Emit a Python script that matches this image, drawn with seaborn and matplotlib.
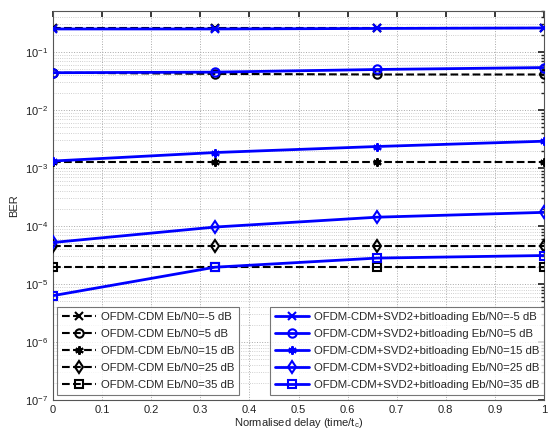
import numpy as np
import pandas as pd
import matplotlib
matplotlib.use("Agg")
import matplotlib.pyplot as plt
from matplotlib.ticker import LogLocator, NullFormatter
from matplotlib.lines import Line2D
import seaborn as sns

# ---- data ----
delay = [0.0, 0.33, 0.66, 1.0]
snr_labels = ["-5", "5", "15", "25", "35"]

cdm_m5 = [0.255, 0.255, 0.255, 0.255]
cdm_5 = [0.044, 0.042, 0.041, 0.041]
cdm_15 = [1.27e-3, 1.27e-3, 1.27e-3, 1.27e-3]
cdm_25 = [4.5e-5, 4.5e-5, 4.5e-5, 4.5e-5]
cdm_35 = [1.95e-5, 1.95e-5, 1.95e-5, 1.95e-5]

svd_m5 = [0.25, 0.25, 0.255, 0.26]
svd_5 = [0.044, 0.045, 0.050, 0.054]
svd_15 = [1.32e-3, 1.85e-3, 2.35e-3, 2.9e-3]
svd_25 = [5.2e-5, 9.6e-5, 1.42e-4, 1.72e-4]
svd_35 = [6.3e-6, 1.95e-5, 2.8e-5, 3.1e-5]

xticks = [0, 0.1, 0.2, 0.3, 0.4, 0.5, 0.6, 0.7, 0.8, 0.9, 1]
xticklabels = ["0", "0.1", "0.2", "0.3", "0.4", "0.5", "0.6", "0.7", "0.8", "0.9", "1"]

cdm_series = [cdm_m5, cdm_5, cdm_15, cdm_25, cdm_35]
svd_series = [svd_m5, svd_5, svd_15, svd_25, svd_35]

rows = []
for lab, vals in zip(snr_labels, cdm_series):
    for x, v in zip(delay, vals):
        rows.append(dict(delay=x, ber=v, system="OFDM-CDM", snr=lab))
for lab, vals in zip(snr_labels, svd_series):
    for x, v in zip(delay, vals):
        rows.append(dict(delay=x, ber=v, system="OFDM-CDM+SVD2+bitloading", snr=lab))
df = pd.DataFrame(rows)

sns.set_theme(style="white")
plt.rcParams["font.family"] = ["Liberation Sans", "DejaVu Sans"]
plt.rcParams["mathtext.fontset"] = "custom"
plt.rcParams["mathtext.rm"] = "Liberation Sans"
plt.rcParams["mathtext.it"] = "Liberation Sans"

fig = plt.figure(figsize=(5.58, 4.36), dpi=100)
ax = fig.add_axes([53 / 558, 1 - 400 / 436, (544 - 53) / 558, (400 - 11) / 436])

asterisk = (6, 2, 0)
markers = ["x", "o", asterisk, "d", "s"]

cdm_handles = []
svd_handles = []
for lab, mk in zip(snr_labels, markers):
    sub = df[(df.system == "OFDM-CDM") & (df.snr == lab)]
    sns.lineplot(data=sub, x="delay", y="ber", ax=ax, color="black", linestyle="--",
                 linewidth=1.5, marker=mk, markersize=6, markerfacecolor="none",
                 markeredgecolor="black", markeredgewidth=1.5, zorder=3)
    cdm_handles.append(Line2D([], [], color="black", linestyle="--", linewidth=1.5,
                              marker=mk, markersize=6, markerfacecolor="none",
                              markeredgecolor="black", markeredgewidth=1.5))
for lab, mk in zip(snr_labels, markers):
    sub = df[(df.system == "OFDM-CDM+SVD2+bitloading") & (df.snr == lab)]
    sns.lineplot(data=sub, x="delay", y="ber", ax=ax, color="blue", linestyle="-",
                 linewidth=2, marker=mk, markersize=6, markerfacecolor="none",
                 markeredgecolor="blue", markeredgewidth=1.5, zorder=4)
    svd_handles.append(Line2D([], [], color="blue", linestyle="-", linewidth=2,
                              marker=mk, markersize=6, markerfacecolor="none",
                              markeredgecolor="blue", markeredgewidth=1.5))

ax.set_yscale("log")
ax.set_ylim(1e-7, 0.51)
ax.set_xlim(0, 1)
ax.set_xticks(xticks)
ax.set_xticklabels(xticklabels)
ax.yaxis.set_major_locator(LogLocator(base=10, numticks=20))
ax.yaxis.set_minor_locator(LogLocator(base=10, subs=np.arange(2, 10), numticks=100))
ax.yaxis.set_minor_formatter(NullFormatter())

ax.grid(True, which="major", axis="both", linestyle=":", color="#a8a8a8", linewidth=0.7)
ax.grid(True, which="minor", axis="y", linestyle=":", color="#c0c0c0", linewidth=0.6)
ax.tick_params(which="both", direction="in", top=True, right=True, labelsize=8, colors="#222222")
ax.tick_params(which="major", length=4)
ax.tick_params(which="minor", length=2)
for s in ax.spines.values():
    s.set_color("#555555")
    s.set_linewidth(0.8)

ax.set_xlabel("Normalised delay (time/t$_c$)", fontsize=8, labelpad=1)
ax.set_ylabel("BER", fontsize=8, labelpad=4)

cdm_labels = [f"OFDM-CDM Eb/N0={l} dB" for l in snr_labels]
svd_labels = [f"OFDM-CDM+SVD2+bitloading Eb/N0={l} dB" for l in snr_labels]

common = dict(fontsize=8.2, frameon=True, fancybox=False, edgecolor="#555555",
              handlelength=3.0, labelspacing=0.62, borderpad=0.45, handletextpad=0.4,
              borderaxespad=0)
leg1 = ax.legend(cdm_handles, cdm_labels, loc="lower left", bbox_to_anchor=(0.008, 0.012),
                 **common)
leg1.get_frame().set_linewidth(0.8)
ax.add_artist(leg1)
leg2 = ax.legend(svd_handles, svd_labels, loc="lower right", bbox_to_anchor=(1.0, 0.012),
                 **common)
leg2.get_frame().set_linewidth(0.8)

fig.savefig("out.png", dpi=100)
